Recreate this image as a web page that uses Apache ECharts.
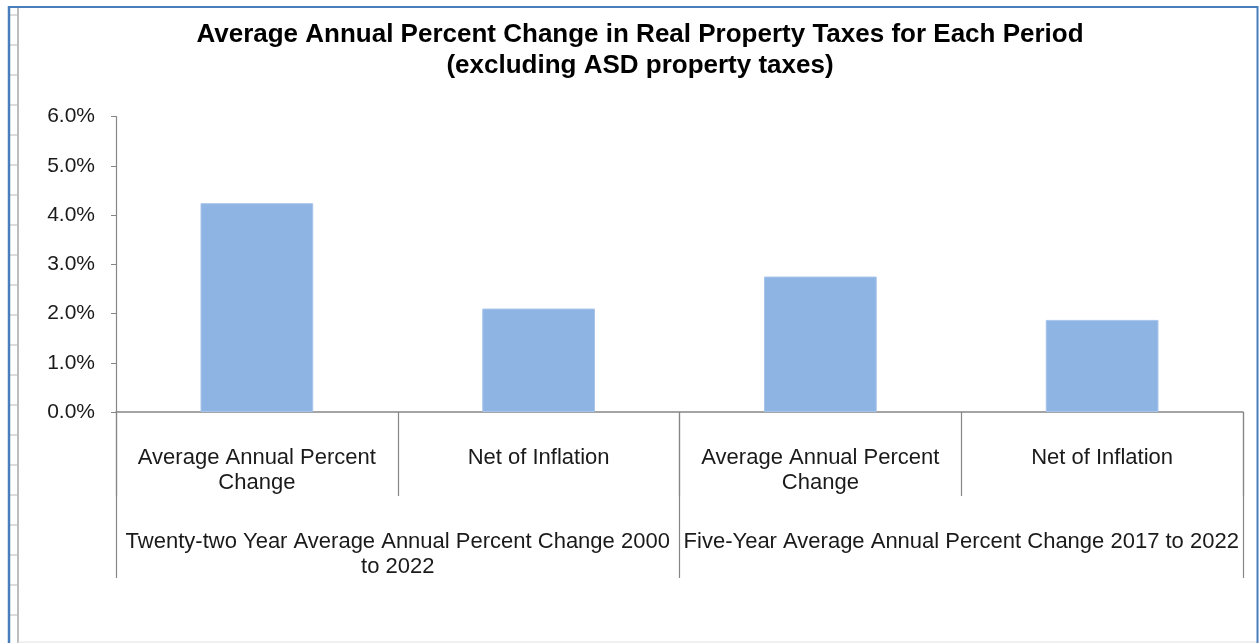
<!DOCTYPE html>
<html>
<head>
<meta charset="utf-8">
<title>Average Annual Percent Change in Real Property Taxes</title>
<script src="https://cdn.jsdelivr.net/npm/echarts@6/dist/echarts.min.js"></script>
<style>
  html, body { margin: 0; padding: 0; background: #ffffff; }
  #chart { width: 1259px; height: 643px; }
</style>
</head>
<body>
<div id="chart"></div>
<script>
// Chart data
const titleLines = [
  'Average Annual Percent Change in Real Property Taxes for Each Period',
  '(excluding ASD property taxes)'
];
const measureLabels = [
  'Average Annual Percent\nChange',
  'Net of Inflation',
  'Average Annual Percent\nChange',
  'Net of Inflation'
];
const periodLabels = [
  'Twenty-two Year Average Annual Percent Change 2000\nto 2022',
  'Five-Year Average Annual Percent Change 2017 to 2022'
];
const percentChange = [4.24, 2.10, 2.75, 1.87];
const yTicks = { min: 0, max: 6, step: 1 };

const FONT = '"Liberation Sans", Arial, sans-serif';
const AXIS_GREY = '#868686';
const TEXT = '#1a1a1a';

// Worksheet frame decoration around the chart
const frame = [];
for (let y = 15; y < 643; y += 30) {
  frame.push({ type: 'line', shape: { x1: 10, y1: y, x2: 17, y2: y },
    style: { stroke: '#dcdcdc', lineWidth: 2 }, silent: true });
}
frame.push(
  { type: 'line', shape: { x1: 18, y1: 7, x2: 18, y2: 643 }, style: { stroke: '#bdbdbd', lineWidth: 2 }, silent: true },
  { type: 'line', shape: { x1: 18, y1: 642, x2: 1257, y2: 642 }, style: { stroke: '#e2e2e2', lineWidth: 1 }, silent: true },
  { type: 'line', shape: { x1: 9, y1: 7, x2: 1258, y2: 7 }, style: { stroke: '#4a7ebb', lineWidth: 2 }, silent: true },
  { type: 'line', shape: { x1: 9, y1: 6, x2: 9, y2: 643 }, style: { stroke: '#4a7ebb', lineWidth: 2.5 }, silent: true },
  { type: 'line', shape: { x1: 1257.5, y1: 6, x2: 1257.5, y2: 643 }, style: { stroke: '#4a7ebb', lineWidth: 2 }, silent: true }
);

const chart = echarts.init(document.getElementById('chart'), null, { renderer: 'canvas' });

chart.setOption({
  animation: false,
  backgroundColor: '#ffffff',
  title: {
    text: titleLines.join('\n'),
    left: 640,
    top: 19,
    padding: 0,
    textAlign: 'center',
    textStyle: {
      fontFamily: FONT,
      fontSize: 26,
      fontWeight: 'bold',
      lineHeight: 31,
      color: '#000000'
    }
  },
  grid: { left: 116, right: 16, top: 116.5, bottom: 231 },
  xAxis: [
    {
      type: 'category',
      gridIndex: 0,
      position: 'bottom',
      data: measureLabels,
      boundaryGap: true,
      axisLine: { show: true, lineStyle: { color: AXIS_GREY, width: 1.5 } },
      axisTick: { show: true, length: 84, lineStyle: { color: AXIS_GREY, width: 1.2 } },
      axisLabel: {
        interval: 0,
        margin: 33,
        fontFamily: FONT,
        fontSize: 22,
        lineHeight: 25.5,
        color: TEXT,
        align: 'center'
      },
      splitLine: { show: false }
    },
    {
      type: 'category',
      gridIndex: 0,
      position: 'bottom',
      data: periodLabels,
      boundaryGap: true,
      axisLine: { show: false },
      axisTick: { show: true, length: 166, lineStyle: { color: AXIS_GREY, width: 1.2 } },
      axisLabel: {
        interval: 0,
        margin: 117,
        fontFamily: FONT,
        fontSize: 22,
        lineHeight: 25,
        color: TEXT,
        align: 'center'
      },
      splitLine: { show: false }
    }
  ],
  yAxis: {
    type: 'value',
    min: yTicks.min,
    max: yTicks.max,
    interval: yTicks.step,
    axisLine: { show: true, lineStyle: { color: AXIS_GREY, width: 1.2 } },
    axisTick: { show: true, length: 5, lineStyle: { color: AXIS_GREY } },
    splitLine: { show: false },
    axisLabel: {
      margin: 21,
      fontFamily: FONT,
      fontSize: 21,
      color: TEXT,
      formatter: v => v.toFixed(1) + '%'
    }
  },
  series: [
    {
      type: 'bar',
      xAxisIndex: 0,
      yAxisIndex: 0,
      data: percentChange,
      barWidth: '40%',
      itemStyle: { color: '#8eb4e3', borderColor: '#a7c4ea', borderWidth: 1 },
      emphasis: { disabled: true }
    }
  ],
  graphic: frame
});
</script>
</body>
</html>
